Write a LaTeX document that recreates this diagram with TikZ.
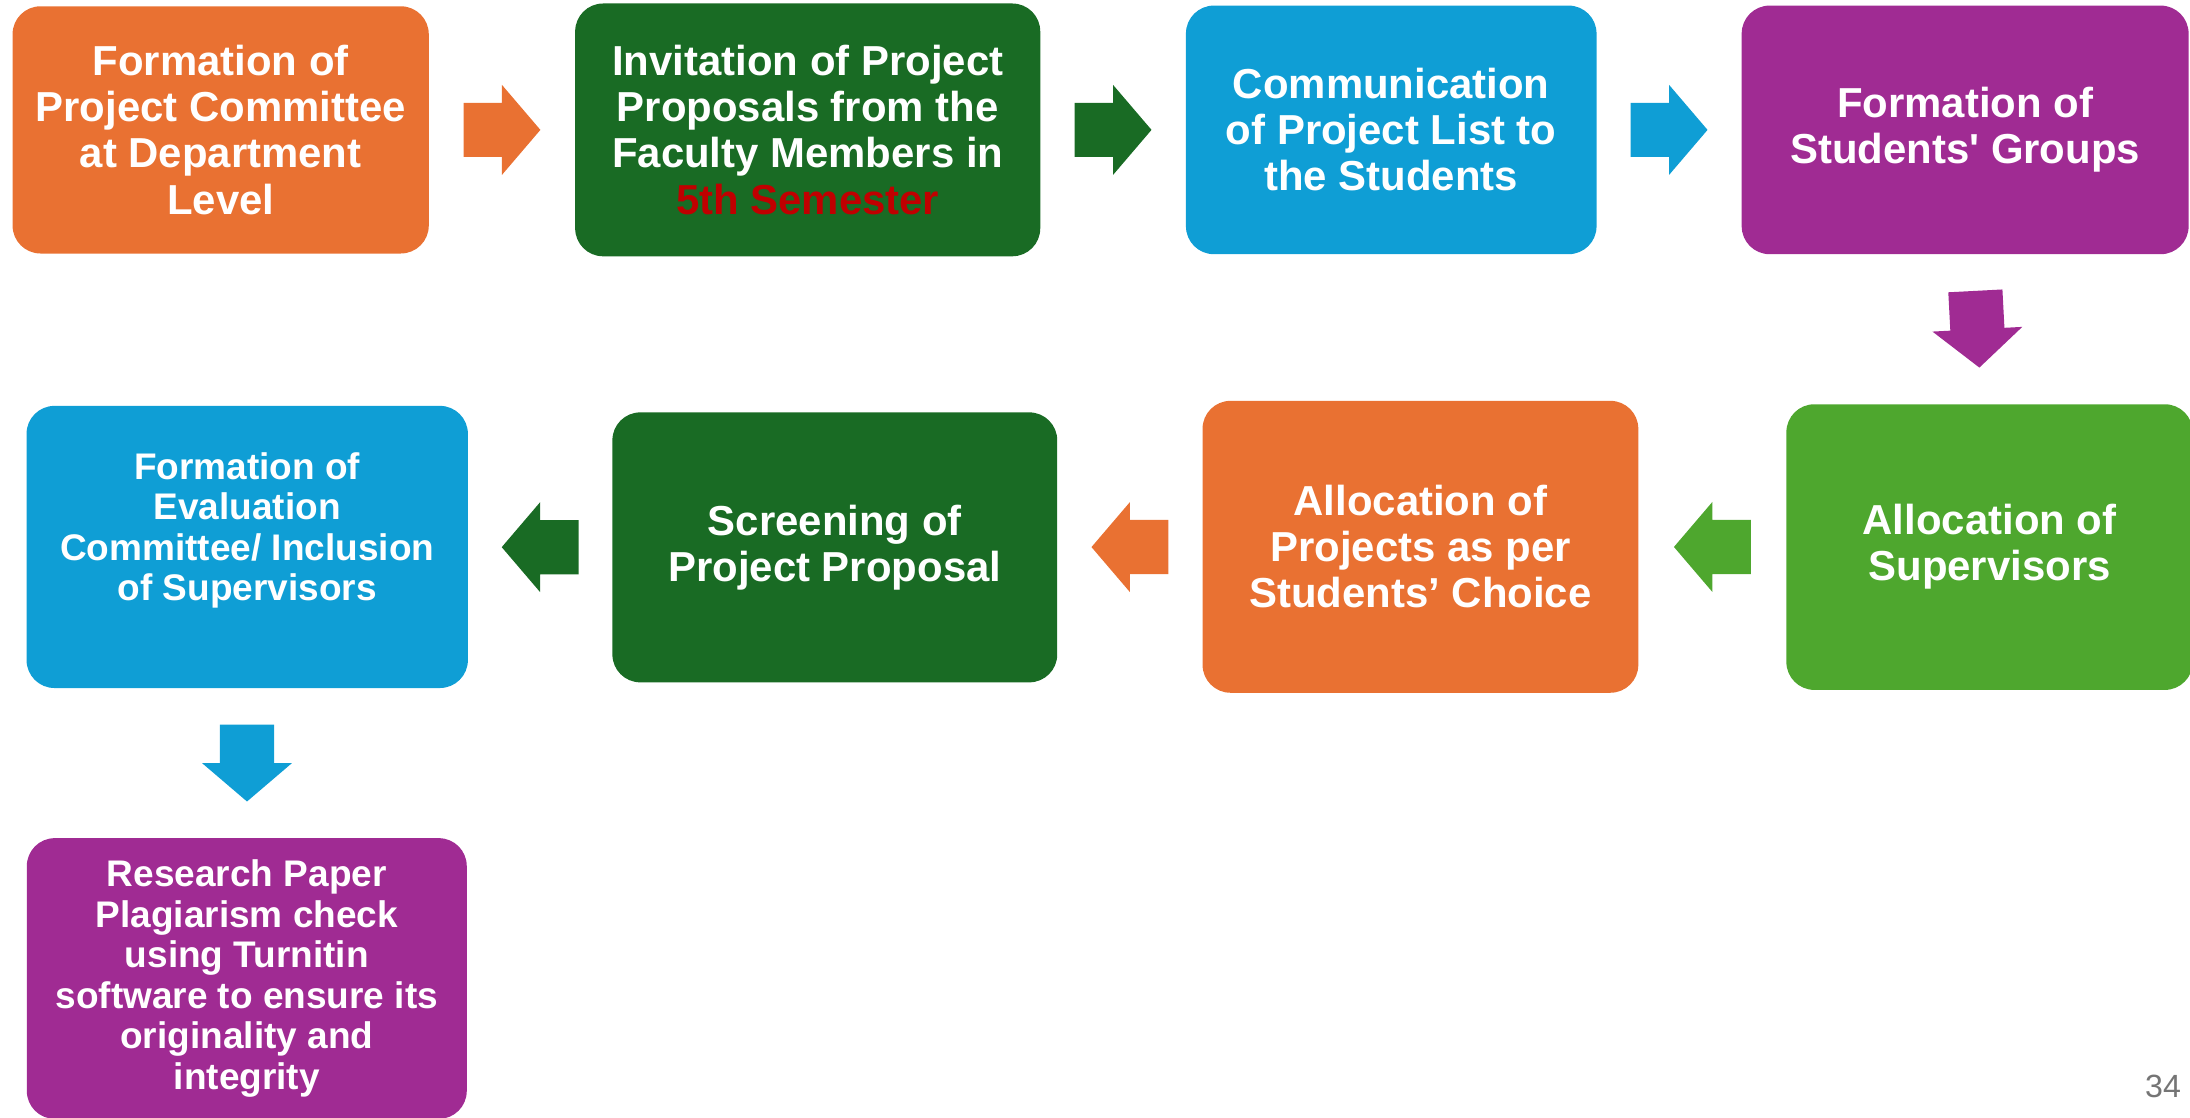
\documentclass[tikz,border=0pt]{standalone}
\usepackage{fontspec}
\setmainfont{Liberation Sans}[Ligatures=TeXOff]
\usetikzlibrary{calc,positioning}
\definecolor{stepOrange}{HTML}{E97132}
\definecolor{stepDkGreen}{HTML}{196B24}
\definecolor{stepBlue}{HTML}{0F9ED5}
\definecolor{stepPurple}{HTML}{A02B93}
\definecolor{stepLtGreen}{HTML}{4EA72E}
\definecolor{semRed}{HTML}{C00000}
\definecolor{pageGray}{HTML}{757575}

\begin{document}
\begin{tikzpicture}[x=1pt,y=-1pt,
  box/.style={rectangle,rounded corners=20pt,inner sep=0pt,align=center,text=white,font=\bfseries\fontsize{30}{33}\selectfont},
  smallbox/.style={box,font=\bfseries\fontsize{26.5}{29}\selectfont},
  blockarr/.pic={\fill (-27.5,-19.4) -- (0,-19.4) -- (0,-32.2) -- (27.5,0) -- (0,32.2) -- (0,19.4) -- (-27.5,19.4) -- cycle;}]
\useasboundingbox (0,0) rectangle (1568,800);
\clip (0,0) rectangle (1568,800);

\node [box,fill=stepOrange,minimum width=298pt,minimum height=177pt] (b1) at (158,93) {Formation of\\Project Committee\\at Department\\Level};
\node [box,fill=stepDkGreen,minimum width=333pt,minimum height=181pt] (b2) at (578.3,93) {Invitation of Project\\Proposals from the\\Faculty Members in\\\textcolor{semRed}{5th Semester}};
\node [box,fill=stepBlue,minimum width=294pt,minimum height=178pt] (b3) at (996.1,93) {Communication\\of Project List to\\the Students};
\node [box,fill=stepPurple,minimum width=320pt,minimum height=178pt] (b4) at (1407,93) {Formation of\\Students' Groups};

\node [box,fill=stepLtGreen,minimum width=291pt,minimum height=204.5pt] (b8) at (1424.5,391.7) {Allocation of\\Supervisors};
\node [box,fill=stepOrange,minimum width=312pt,minimum height=209pt] (b7) at (1017,391.5) {Allocation of\\Projects as per\\Students’ Choice};
\node [box,fill=stepDkGreen,minimum width=318.5pt,minimum height=193.3pt] (b6) at (597.7,391.9) {Screening of\\Project Proposal};
\node [smallbox,fill=stepBlue,minimum width=316pt,minimum height=202pt] (b5) at (177,391.6) {Formation of\\Evaluation\\Committee/ Inclusion\\of Supervisors\\\mbox{}};

\node [smallbox,fill=stepPurple,minimum width=315pt,minimum height=201pt] (b9) at (176.7,700.6) {Research Paper\\Plagiarism check\\using Turnitin\\software to ensure its\\originality and\\integrity};

\path ($(b1.east)!0.5!(b2.west)$) pic [fill=stepOrange] {blockarr};
\path ($(b2.east)!0.5!(b3.west)$) pic [fill=stepDkGreen] {blockarr};
\path ($(b3.east)!0.5!(b4.west)$) pic [fill=stepBlue] {blockarr};
\path ($(b4.south)!0.5!(b8.north)$) pic [fill=stepPurple,rotate=-87] {blockarr};
\path ($(b8.west)!0.5!(b7.east)$) pic [fill=stepLtGreen,rotate=180] {blockarr};
\path ($(b7.west)!0.5!(b6.east)$) pic [fill=stepOrange,rotate=180] {blockarr};
\path ($(b6.west)!0.5!(b5.east)$) pic [fill=stepDkGreen,rotate=180] {blockarr};
\path ($(b5.south)!0.5!(b9.north)$) pic [fill=stepBlue,rotate=-90] {blockarr};

\node [anchor=base east,text=pageGray,font=\fontsize{23}{27}\selectfont] (pnum) at (1565,785.6) {34};
\end{tikzpicture}
\end{document}
